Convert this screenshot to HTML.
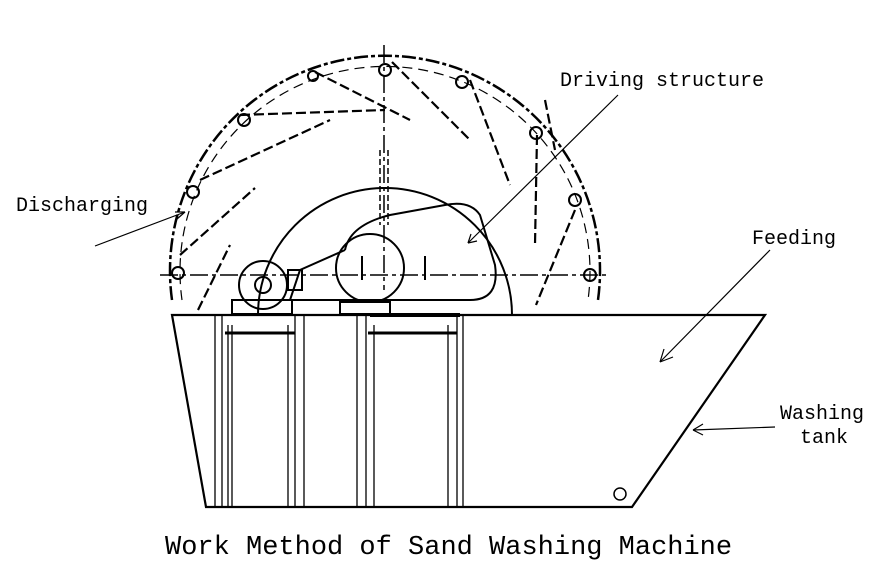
<!DOCTYPE html>
<html><head><style>body{margin:0;background:#fff}svg{display:block}</style></head><body>
<svg width="890" height="570" viewBox="0 0 890 570" xmlns="http://www.w3.org/2000/svg" font-family="'Liberation Mono',monospace">
<rect width="890" height="570" fill="#fff"/>
<g fill="none" stroke="#000" stroke-width="2">
<!-- outer wheel rim arc -->
<path d="M172,300 A215,215 0 1 1 598,300" stroke-width="2.5" stroke-dasharray="14,3,4,3"/>
<path d="M182,300 A205,205 0 1 1 588,300" stroke-width="1.2" stroke-dasharray="10,6"/>
<!-- inner disc arc -->
<path d="M258,315 A127,127 0 1 1 512,315" stroke-width="2"/>
<!-- centerlines -->
<line x1="160" y1="275" x2="610" y2="275" stroke-width="1.5" stroke-dasharray="18,4,4,4"/>
<line x1="384" y1="45" x2="384" y2="290" stroke-width="1.5" stroke-dasharray="18,4,4,4"/>
<line x1="380" y1="150" x2="380" y2="225" stroke-width="1.5" stroke-dasharray="6,3"/>
<line x1="388" y1="150" x2="388" y2="225" stroke-width="1.5" stroke-dasharray="6,3"/>
<!-- buckets (dashed radial-ish lines) -->
<g stroke-dasharray="10,4" stroke-width="2.2">
<line x1="315" y1="72" x2="410" y2="120"/>
<line x1="392" y1="62" x2="470" y2="140"/>
<line x1="470" y1="80" x2="510" y2="185"/>
<line x1="240" y1="115" x2="385" y2="110"/>
<line x1="200" y1="180" x2="330" y2="120"/>
<line x1="180" y1="255" x2="255" y2="188"/>
<line x1="198" y1="310" x2="230" y2="245"/>
<line x1="537" y1="135" x2="535" y2="245"/>
<line x1="575" y1="210" x2="536" y2="305"/>
<line x1="545" y1="100" x2="555" y2="150"/>
</g>
<!-- teeth small circles on rim -->
<g stroke-width="2">
<circle cx="385" cy="70" r="6"/><circle cx="462" cy="82" r="6"/><circle cx="244" cy="120" r="6"/>
<circle cx="313" cy="76" r="5"/><circle cx="536" cy="133" r="6"/><circle cx="575" cy="200" r="6"/>
<circle cx="193" cy="192" r="6"/><circle cx="178" cy="273" r="6"/><circle cx="590" cy="275" r="6"/>
</g>
<!-- drive -->
<path d="M345,250 L300,270 L290,300 L470,300 Q500,300 495,265 L480,215 Q470,200 445,205 L390,215 Q350,225 345,250" stroke-width="2"/>
<circle cx="370" cy="268" r="34" stroke-width="2"/>
<line x1="362" y1="256" x2="362" y2="280"/><line x1="425" y1="256" x2="425" y2="280"/>
<circle cx="263" cy="285" r="24" stroke-width="2"/>
<circle cx="263" cy="285" r="8"/>
<rect x="288" y="270" width="14" height="20"/>
<rect x="232" y="300" width="60" height="14"/>
<rect x="340" y="302" width="50" height="12"/>
<!-- tank -->
<path d="M172,315 L765,315 L632,507 L206,507 Z" stroke-width="2.2"/>
<circle cx="620" cy="494" r="6" stroke-width="1.5"/>
<g stroke-width="1.3">
<line x1="215" y1="315" x2="215" y2="507"/><line x1="222" y1="315" x2="222" y2="507"/><line x1="228" y1="325" x2="228" y2="507"/><line x1="232" y1="325" x2="232" y2="507"/>
<line x1="288" y1="325" x2="288" y2="507"/><line x1="295" y1="315" x2="295" y2="507"/><line x1="304" y1="315" x2="304" y2="507"/>
<line x1="357" y1="315" x2="357" y2="507"/><line x1="366" y1="315" x2="366" y2="507"/><line x1="374" y1="325" x2="374" y2="507"/>
<line x1="448" y1="325" x2="448" y2="507"/><line x1="457" y1="315" x2="457" y2="507"/><line x1="463" y1="315" x2="463" y2="507"/>
</g>
<line x1="225" y1="333" x2="295" y2="333" stroke-width="3"/>
<line x1="368" y1="333" x2="457" y2="333" stroke-width="3"/>
<line x1="370" y1="315" x2="460" y2="315" stroke-width="4"/>
<!-- leaders -->
<g stroke-width="1.2">
<line x1="95" y1="246" x2="185" y2="212"/>
<line x1="468" y1="243" x2="618" y2="95"/>
<line x1="660" y1="362" x2="770" y2="250"/>
<line x1="693" y1="430" x2="775" y2="427"/>
</g>
<path d="M185,212 l-10,0 M185,212 l-8,7" stroke-width="1.2"/>
<path d="M468,243 l3,-9 M468,243 l9,-2" stroke-width="1.2"/>
<path d="M660,362 l4,-13 M660,362 l13,-5" stroke-width="1.2"/>
<path d="M693,430 l10,-6 M693,430 l10,5" stroke-width="1.2"/>
</g>
<g font-size="20" fill="#000">
<text x="16" y="211">Discharging</text>
<text x="560" y="86">Driving structure</text>
<text x="752" y="244">Feeding</text>
<text x="780" y="419">Washing</text>
<text x="800" y="443">tank</text>
<text x="165" y="554" font-size="27">Work Method of Sand Washing Machine</text>
</g>
</svg>
</body></html>
